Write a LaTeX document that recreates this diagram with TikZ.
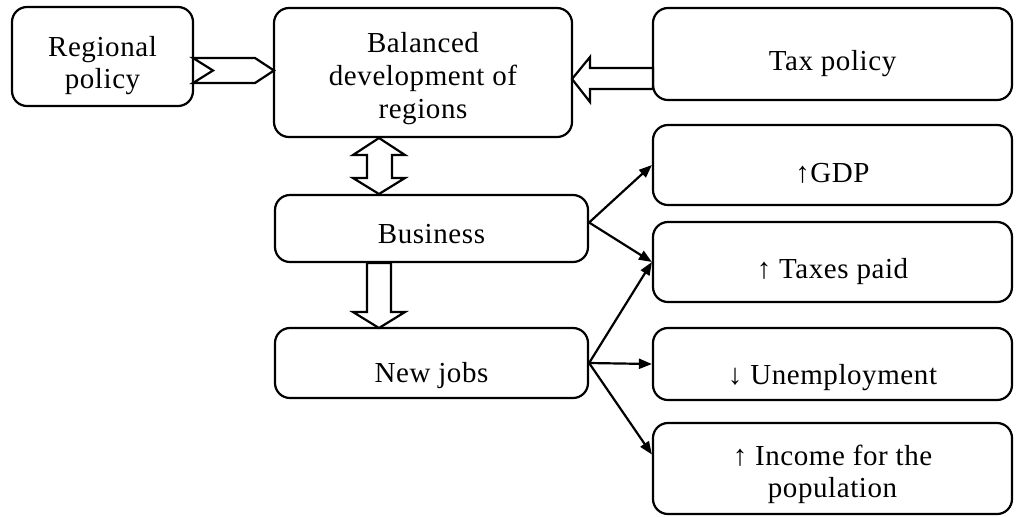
\documentclass[tikz,border=0pt]{standalone}
\usepackage{fontspec}
\setmainfont{Liberation Serif}[LetterSpace=2]
\usepackage{tikz}
\usetikzlibrary{positioning,arrows.meta,calc}
\tikzset{
  box/.style   ={rectangle, rounded corners=7.5pt, draw=black, line width=1.1pt,
                 align=center, inner sep=0pt, font=\fontsize{14.5}{16.3}\selectfont},
  wide/.style  ={box, minimum width=179.5pt},
  txtdown/.style={text height=#1, text depth=0pt},
  conn/.style  ={-{Triangle[length=6.5pt,width=5pt]}, line width=1.1pt},
  hollow/.style={draw=black, fill=white, line width=1.1pt, line join=miter},
}

\begin{document}
\begin{tikzpicture}[x=0.5pt, y=-0.5pt]
\useasboundingbox (0,0) rectangle (1016,516);
% left column and centre column
\node[box, minimum width=90.5pt, minimum height=49.5pt] (reg) at (102.5,56.5) {\rule{0pt}{19.2pt}Regional\\ policy};
\node[box, minimum width=149pt, minimum height=64.5pt] (bal) at (423,72.5) {\rule{0pt}{16.2pt}Balanced\\ development of\\ regions};
\node[box, txtdown=15.1pt, minimum width=156.5pt, minimum height=33.5pt] (bus) at (431.5,228.5) {Business};
\node[box, txtdown=19.6pt, minimum width=156.5pt, minimum height=35pt] (jobs) at (431.5,363) {New jobs};
% right column
\node[wide, txtdown=16.6pt, minimum height=46pt] (tax) at (832.5,54) {Tax policy};
\node[wide, txtdown=17.6pt, minimum height=40pt] (gdp) at (832.5,165) {↑GDP};
\node[wide, txtdown=16.6pt, minimum height=40pt] (paid) at (832.5,262) {↑ Taxes paid};
\node[wide, txtdown=20.6pt, minimum height=36pt] (unemp) at (832.5,364) {↓ Unemployment};
\node[wide, minimum height=45.5pt] (inc) at (832.5,468.5) {\rule{0pt}{16pt}↑ Income for the\\ population};

% hollow block arrows
\draw[hollow] (193,58) -- (255,58) -- (274,70.5) -- (255,83) -- (193,83) -- (213,70.5) -- cycle;
\draw[hollow] (653,68) -- (590,68) -- (590,57) -- (572,79) -- (590,102) -- (590,89) -- (653,89) -- cycle;
\draw[hollow] (379,138) -- (405,155) -- (392,155) -- (392,178) -- (405,178) -- (379,194)
  -- (353,178) -- (367,178) -- (367,155) -- (353,155) -- cycle;
\draw[hollow] (367,263) -- (391,263) -- (391,312) -- (405,312) -- (379,328) -- (353,312) -- (367,312) -- cycle;

% effects
\draw[conn] ($(bus.east)+(0,-6)$) -- (gdp.west);
\draw[conn] ($(bus.east)+(0,-6)$) -- (paid.west);
\draw[conn] (jobs.east) -- (paid.west);
\draw[conn] (jobs.east) -- (unemp.west);
\draw[conn] (jobs.east) -- ($(inc.north west)!0.35!(inc.south west)$);
\end{tikzpicture}
\end{document}
